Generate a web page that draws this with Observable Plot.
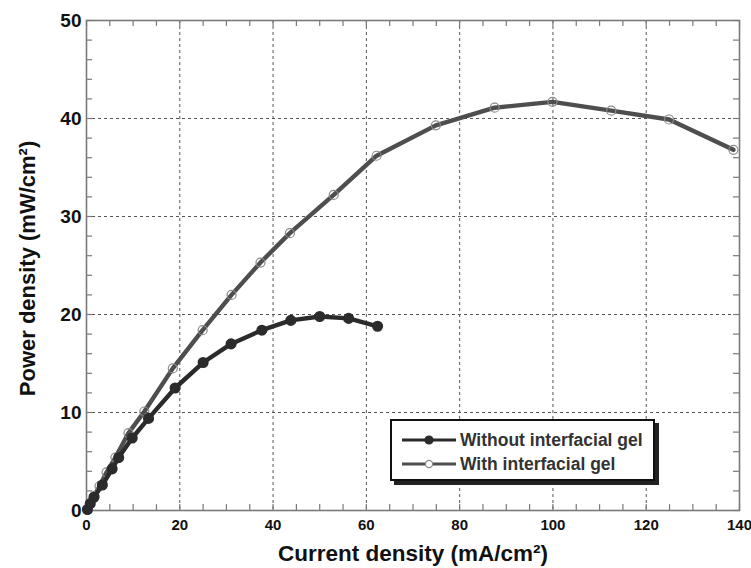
<!DOCTYPE html>
<html>
<head>
<meta charset="utf-8">
<script src="https://cdn.jsdelivr.net/npm/d3@7"></script>
<script src="https://cdn.jsdelivr.net/npm/@observablehq/plot@0.6"></script>
<style>
  html, body { margin: 0; padding: 0; background: #fff; }
  #wrap { position: relative; width: 751px; height: 568px; font-family: "Liberation Sans", Arial, sans-serif; }
  #legend { position: absolute; left: 390px; top: 419px; width: 261px; height: 58px; border: 2px solid #111; background: #fff;
            box-shadow: 4px 4px 0 #222; font-weight: bold; font-size: 17.5px; color: #333; }
  #legend .row { position: absolute; left: 10px; height: 22px; display: flex; align-items: center; white-space: nowrap; }
  #legend svg { margin-right: 4px; }
</style>
</head>
<body>
<div id="wrap"></div>
<script>
// ---- data ----
const seriesNames = ["Without interfacial gel", "With interfacial gel"];
const withoutX = [0.2, 0.8, 1.6, 3.4, 5.5, 6.9, 9.8, 13.3, 19.0, 25.0, 31.0, 37.6, 43.8, 50.0, 56.2, 62.4];
const withoutY = [0.1, 0.7, 1.35, 2.6, 4.25, 5.4, 7.4, 9.4, 12.5, 15.1, 17.0, 18.4, 19.4, 19.8, 19.6, 18.8];
const withX = [0.2, 0.8, 1.7, 2.8, 4.3, 6.2, 9.0, 12.4, 18.5, 24.9, 31.1, 37.3, 43.6, 53.0, 62.2, 74.9, 87.5, 99.9, 112.5, 124.9, 138.7];
const withY = [0.1, 0.7, 1.5, 2.5, 3.9, 5.4, 7.9, 10.1, 14.5, 18.4, 22.0, 25.3, 28.3, 32.2, 36.2, 39.3, 41.1, 41.7, 40.8, 39.9, 36.8];
const xTicks = [0, 20, 40, 60, 80, 100, 120, 140];
const yTicks = [0, 10, 20, 30, 40, 50];
const xMinor = d3.range(0, 141, 5);
const yMinor = d3.range(0, 51, 2);
const xLabel = "Current density (mA/cm²)";
const yLabel = "Power density (mW/cm²)";

const without = withoutX.map((x, i) => ({x, y: withoutY[i], s: seriesNames[0]}));
const withGel = withX.map((x, i) => ({x, y: withY[i], s: seriesNames[1]}));

const darkC = "#2b2b2b", grayC = "#4e4e4e", frameC = "#7a7a7a", gridC = "#555";

const chart = Plot.plot({
  width: 751, height: 568,
  marginLeft: 86, marginRight: 12, marginTop: 20, marginBottom: 58,
  x: {domain: [0, 140]},
  y: {domain: [0, 50]},
  style: {fontFamily: "'Liberation Sans', Arial, sans-serif", fontWeight: "bold", fontSize: "16px", color: "#111", background: "#fff"},
  marks: [
    Plot.gridX(xTicks.filter(d => d > 0 && d < 140), {stroke: gridC, strokeOpacity: 1, strokeWidth: 1, strokeDasharray: "3,3"}),
    Plot.gridY(yTicks.filter(d => d > 0 && d < 50), {stroke: gridC, strokeOpacity: 1, strokeWidth: 1, strokeDasharray: "3,3"}),
    // inward ticks on all four sides
    Plot.ruleX(xMinor, {y1: 0, y2: 0.6, stroke: frameC, strokeWidth: 1.2}),
    Plot.ruleX(xMinor, {y1: 50, y2: 49.4, stroke: frameC, strokeWidth: 1.2}),
    Plot.ruleY(yMinor, {x1: 0, x2: 1.3, stroke: frameC, strokeWidth: 1.2}),
    Plot.ruleY(yMinor, {x1: 140, x2: 138.7, stroke: frameC, strokeWidth: 1.2}),
    Plot.frame({stroke: frameC, strokeWidth: 1.6}),
    Plot.axisX({ticks: xTicks, tickSize: 0, tickPadding: 9, label: null, fontSize: 15, fontWeight: "bold"}),
    Plot.axisY({ticks: yTicks, tickSize: 0, tickPadding: 5, label: null, fontSize: 19, fontWeight: "bold"}),
    Plot.text([xLabel], {frameAnchor: "bottom", lineAnchor: "middle", textAnchor: "middle", dy: 43, fontSize: 22.5, fontWeight: "bold", fill: "#111"}),
    Plot.text([yLabel], {frameAnchor: "left", lineAnchor: "middle", textAnchor: "middle", dx: -59, dy: 3, rotate: -90, fontSize: 22, fontWeight: "bold", fill: "#111"}),
    // series
    Plot.line(withGel, {x: "x", y: "y", stroke: grayC, strokeWidth: 4.4}),
    Plot.dot(withGel, {x: "x", y: "y", r: 4.5, stroke: "#8a8a8a", strokeWidth: 1.2, fill: "none"}),
    Plot.line(without, {x: "x", y: "y", stroke: darkC, strokeWidth: 4.4}),
    Plot.dot(without, {x: "x", y: "y", r: 4.8, fill: darkC, stroke: darkC})
  ]
});
const wrap = document.getElementById("wrap");
wrap.appendChild(chart);

// legend overlay
const legend = document.createElement("div");
legend.id = "legend";
const sw = (filled) => `<svg width="54" height="14"><line x1="0" y1="7" x2="54" y2="7" stroke="${filled ? darkC : grayC}" stroke-width="2.8"/>` +
  `<circle cx="27" cy="7" r="${filled ? 4 : 3.6}" fill="${filled ? darkC : '#fff'}" stroke="${filled ? darkC : '#8a8a8a'}" stroke-width="1.2"/></svg>`;
legend.innerHTML = seriesNames.map((n, i) => `<div class="row" style="top:${8 + i * 24}px">${sw(i === 0)}<span>${n}</span></div>`).join("");
wrap.appendChild(legend);
</script>
</body>
</html>
